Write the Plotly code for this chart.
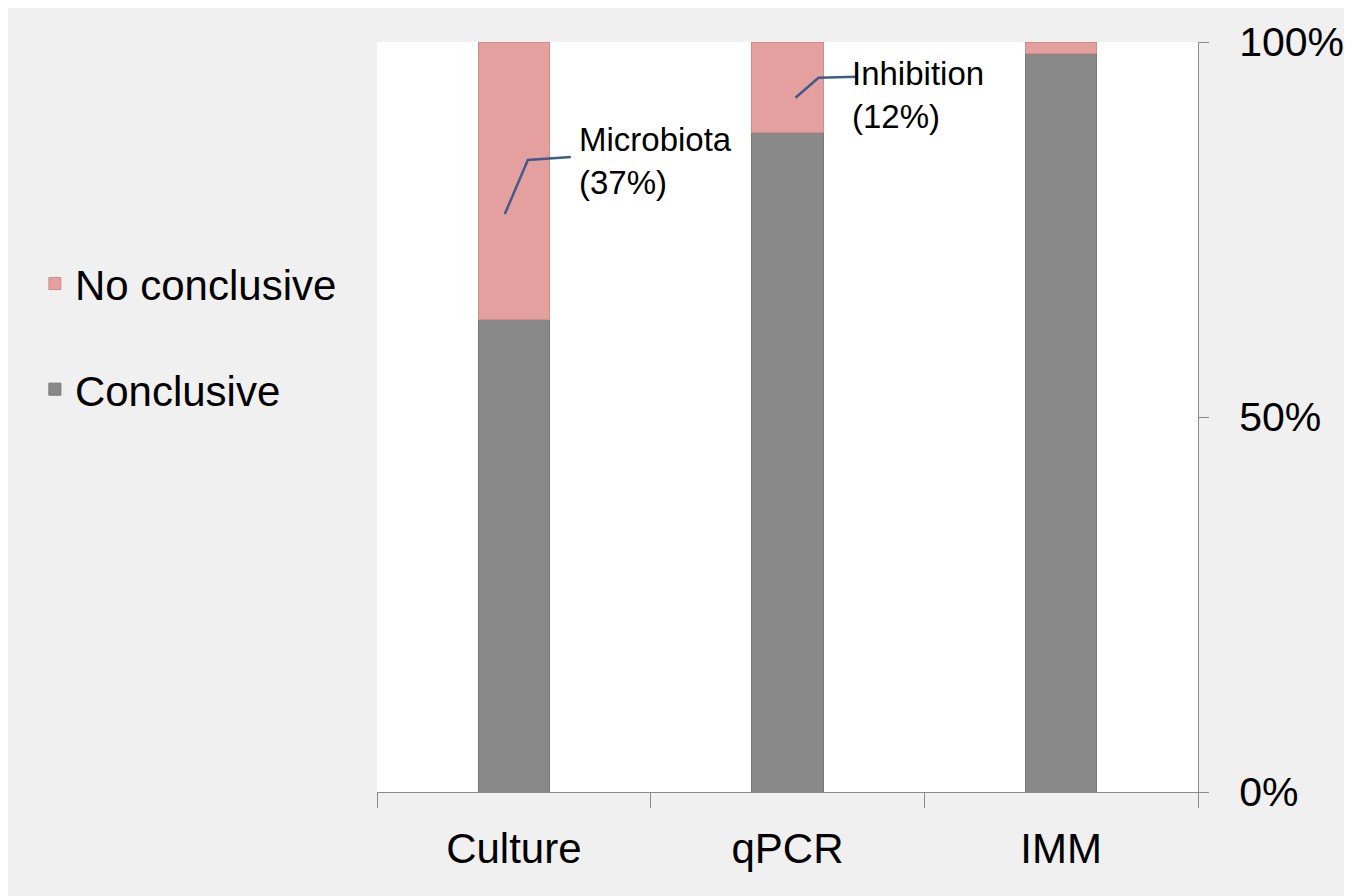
import plotly.graph_objects as go

categories = ["Culture", "qPCR", "IMM"]
conclusive = [63, 88, 98.5]
no_conclusive = [37, 12, 1.5]
y_tick_vals = [0, 50, 100]
y_tick_text = ["0%", "50%", "100%"]
label_texts = ["Microbiota<br>(37%)", "Inhibition<br>(12%)"]
label_cats = [0, 1]

FONT = "Liberation Sans, Arial, sans-serif"
GRAY = "#888888"
PINK = "#e49f9f"
AXIS = "#8a8a8a"
LEADER = "#3f5b8a"

fig = go.Figure()
fig.add_trace(go.Bar(
    x=categories, y=conclusive, name="Conclusive", legendgroup="c", legendrank=2,
    marker=dict(color=GRAY, line=dict(color="#767676", width=1)),
    width=0.26,
))
fig.add_trace(go.Bar(
    x=categories, y=no_conclusive, name="No conclusive", legendgroup="n", legendrank=1,
    marker=dict(color=PINK, line=dict(color="#cf8c8c", width=1)),
    width=0.26,
))

# leader lines + labels
label_frac = 0.38
leader_paths = ["M-9,0 L14,54 L57,57", "M8,0 L31,20 L70,21"]
label_shift = [(63, 53), (62, 3)]
shapes = []
annotations = []
for i, ci in enumerate(label_cats):
    ya = conclusive[ci] + label_frac * no_conclusive[ci]
    shapes.append(dict(
        type="path", xref="x", yref="y", xsizemode="pixel", ysizemode="pixel",
        xanchor=ci, yanchor=ya, path=leader_paths[i],
        line=dict(color=LEADER, width=2.5),
    ))
    annotations.append(dict(
        x=ci, y=ya, xref="x", yref="y", text=label_texts[i], showarrow=False,
        xanchor="left", yanchor="middle", align="left",
        xshift=label_shift[i][0], yshift=label_shift[i][1],
        font=dict(family=FONT, size=33, color="#000000"),
    ))

fig.update_layout(
    barmode="stack",
    width=1344, height=888,
    margin=dict(l=369, r=154, t=34, b=104, autoexpand=False),
    paper_bgcolor="#f0f0f0",
    plot_bgcolor="#ffffff",
    font=dict(family=FONT, size=42, color="#000000"),
    showlegend=True,
    legend=dict(
        xref="container", yref="paper", x=0.020, y=0.607,
        xanchor="left", yanchor="middle",
        traceorder="grouped", tracegroupgap=48,
        font=dict(family=FONT, size=42, color="#000000"),
        bgcolor="rgba(0,0,0,0)",
    ),
    xaxis=dict(
        type="category", categoryorder="array", categoryarray=categories,
        showline=True, linecolor=AXIS, linewidth=1,
        ticks="outside", tickson="boundaries", ticklen=15, tickcolor=AXIS,
        showgrid=False, zeroline=False, ticklabelstandoff=20, automargin=False,
        tickfont=dict(family=FONT, size=42, color="#000000"),
    ),
    yaxis=dict(
        side="right", range=[0, 100], tickvals=y_tick_vals, ticktext=y_tick_text,
        showline=True, linecolor=AXIS, linewidth=1,
        ticks="outside", ticklen=10, tickcolor=AXIS,
        showgrid=False, zeroline=False, ticklabelstandoff=22, automargin=False,
        tickfont=dict(family=FONT, size=41, color="#000000"),
    ),
    shapes=shapes,
    annotations=annotations,
)

fig.write_html("out.html")
